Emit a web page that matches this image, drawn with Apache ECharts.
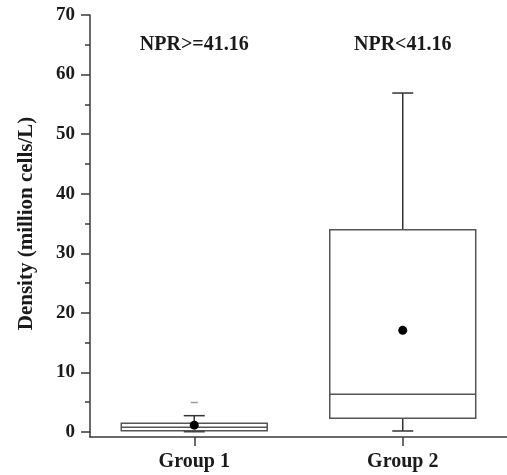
<!DOCTYPE html>
<html>
<head>
<meta charset="utf-8">
<script src="https://cdn.jsdelivr.net/npm/echarts@6/dist/echarts.min.js"></script>
<style>html,body{margin:0;padding:0;background:#fff;}#c{width:507px;height:475px;}</style>
</head>
<body>
<div id="c"></div>
<script>
const categories = ['Group 1', 'Group 2'];
const groupNotes = ['NPR>=41.16', 'NPR<41.16'];
const noteLevel = [65, 65];
const whiskerLow = [0.05, 0.17];
const q1 = [0.22, 2.3];
const medians = [0.8, 6.33];
const q3 = [1.46, 33.96];
const whiskerHigh = [2.74, 56.9];
const means = [1.15, 17.07];
const outliers = [[0, 4.95]];
const yTicks = { min: 0, max: 70, interval: 10 };

const font = '"Liberation Serif", "Times New Roman", serif';
const boxData = categories.map((c, i) => [i, whiskerLow[i], q1[i], medians[i], q3[i], whiskerHigh[i]]);

const chart = echarts.init(document.getElementById('c'));
chart.setOption({
  backgroundColor: '#fff',
  animation: false,
  grid: [
    { left: 90, top: 15, width: 424, height: 417 },
    { left: 90, top: 432, width: 424, height: 5 }
  ],
  xAxis: [
    { type: 'category', gridIndex: 0, data: categories, show: false },
    { type: 'category', gridIndex: 1, data: categories,
      axisLine: { show: true, lineStyle: { color: '#3a3a3a', width: 1.5 } },
      axisTick: { show: true, alignWithLabel: true, length: 9, lineStyle: { color: '#3a3a3a', width: 1.5 } },
      axisLabel: { margin: 15, fontFamily: font, fontWeight: 'bold', fontSize: 20, color: '#1a1a1a' } }
  ],
  yAxis: [
    { type: 'value', gridIndex: 0, min: yTicks.min, max: yTicks.max, interval: yTicks.interval,
      name: 'Density (million cells/L)', nameLocation: 'middle', nameGap: 53,
      nameTextStyle: { fontFamily: font, fontWeight: 'bold', fontSize: 21, color: '#1a1a1a' },
      axisLine: { show: true, lineStyle: { color: '#3a3a3a', width: 1.5 } },
      axisTick: { show: true, length: 9, lineStyle: { color: '#3a3a3a', width: 1.5 } },
      minorTick: { show: true, splitNumber: 2, length: 5, lineStyle: { color: '#3a3a3a', width: 1.5 } },
      splitLine: { show: false },
      axisLabel: { margin: 15, fontFamily: font, fontWeight: 'bold', fontSize: 19, color: '#1a1a1a' } },
    { type: 'value', gridIndex: 1, min: 0, max: 1,
      axisLine: { show: true, lineStyle: { color: '#3a3a3a', width: 1.5 } },
      axisTick: { show: false }, axisLabel: { show: false }, splitLine: { show: false } }
  ],
  series: [
    {
      type: 'custom', xAxisIndex: 0, yAxisIndex: 0, data: boxData,
      renderItem: function (params, api) {
        const i = api.value(0);
        const bw = api.size([1, 0])[0] * 0.7;
        const cw = 21;
        const pLo = api.coord([i, api.value(1)]);
        const pQ1 = api.coord([i, api.value(2)]);
        const pMed = api.coord([i, api.value(3)]);
        const pQ3 = api.coord([i, api.value(4)]);
        const pHi = api.coord([i, api.value(5)]);
        const x = pQ1[0];
        const boxStyle = { stroke: '#555', lineWidth: 1.5, fill: '#fff' };
        const wStyle = { stroke: '#333', lineWidth: 1.5 };
        return {
          type: 'group',
          children: [
            { type: 'line', shape: { x1: x, y1: pQ3[1], x2: x, y2: pHi[1] }, style: wStyle },
            { type: 'line', shape: { x1: x, y1: pQ1[1], x2: x, y2: pLo[1] }, style: wStyle },
            { type: 'line', shape: { x1: x - cw / 2, y1: pHi[1], x2: x + cw / 2, y2: pHi[1] }, style: wStyle },
            { type: 'line', shape: { x1: x - cw / 2, y1: pLo[1], x2: x + cw / 2, y2: pLo[1] }, style: wStyle },
            { type: 'rect', shape: { x: x - bw / 2, y: pQ3[1], width: bw, height: pQ1[1] - pQ3[1] }, style: boxStyle },
            { type: 'line', shape: { x1: x - bw / 2, y1: pMed[1], x2: x + bw / 2, y2: pMed[1] }, style: { stroke: '#555', lineWidth: 1.5 } }
          ]
        };
      },
      z: 2
    },
    {
      type: 'scatter', xAxisIndex: 0, yAxisIndex: 0,
      data: means.map((m, i) => [i, m]),
      symbol: 'circle', symbolSize: 9, itemStyle: { color: '#000', opacity: 1 }, z: 5
    },
    {
      type: 'scatter', xAxisIndex: 0, yAxisIndex: 0,
      data: outliers,
      symbol: 'rect', symbolSize: [7, 1.5], itemStyle: { color: '#999', opacity: 1 }, z: 5
    },
    {
      type: 'scatter', xAxisIndex: 0, yAxisIndex: 0,
      data: groupNotes.map((t, i) => [i, noteLevel[i]]),
      symbolSize: 0, silent: true, itemStyle: { opacity: 1 },
      label: { show: true, position: 'inside', formatter: p => groupNotes[p.dataIndex],
        fontFamily: font, fontWeight: 'bold', fontSize: 20, color: '#1a1a1a' }
    }
  ]
});
</script>
</body>
</html>
